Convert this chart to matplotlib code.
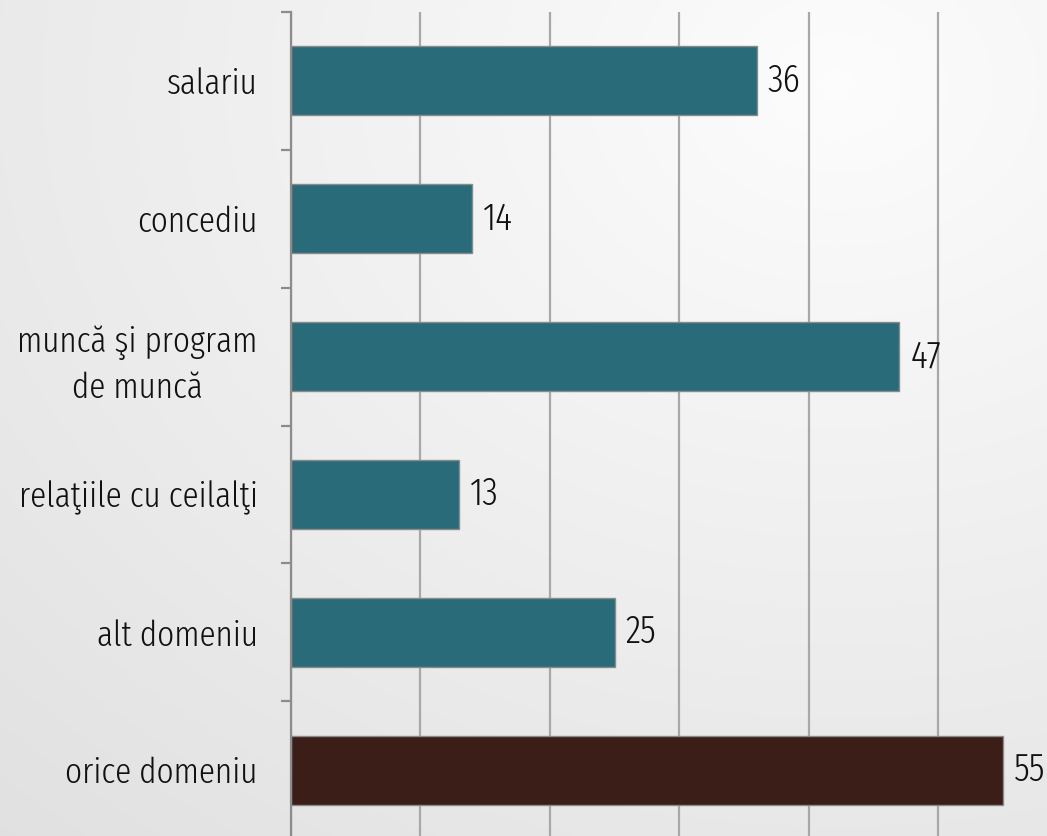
import matplotlib
matplotlib.use('Agg')
from matplotlib import pyplot as plt
from matplotlib import font_manager as fm
import numpy as np

categories = ['salariu', 'concediu', 'muncă şi program\nde muncă',
              'relaţiile cu ceilalţi', 'alt domeniu', 'orice domeniu']
values = [36, 14, 47, 13, 25, 55]
colors = ['#2a6b7a', '#2a6b7a', '#2a6b7a', '#2a6b7a', '#2a6b7a', '#3b1e17']

# pick a condensed face close to the original one
have = set(f.name for f in fm.fontManager.ttflist)
wanted = ['Fira Sans Extra Condensed', 'Open Sans Condensed', 'Roboto Condensed',
          'PT Sans Narrow', 'Liberation Sans Narrow']
fams = [f for f in wanted if f in have] + ['DejaVu Sans']
plt.rcParams['font.family'] = fams
plt.rcParams['font.weight'] = 300

fig = plt.figure(figsize=(10.47, 8.36), dpi=100)

# light grey gradient, whitest towards the top right
bg = fig.add_axes([0, 0, 1, 1], zorder=-10)
yy, xx = np.mgrid[0:1:200j, 0:1:250j]
dist = np.sqrt((xx - 0.8) ** 2 + (yy - 0.1) ** 2)
shade = np.clip(0.99 - 0.09 * dist, 0, 1)
bg.imshow(np.dstack([shade] * 3), aspect='auto', extent=[0, 1, 0, 1],
          origin='upper', interpolation='bilinear')
bg.axis('off')

ax = fig.add_axes([291 / 1047, -3 / 836, 60 * 12.94 / 1047, 827 / 836])
ax.patch.set_alpha(0)

pos = np.arange(len(values))
ax.barh(pos, values, height=0.5, color=colors, edgecolor='#8a8a8a',
        linewidth=1, zorder=3)
for p, v in zip(pos, values):
    ax.text(v + 0.85, p, str(v), va='center', ha='left', fontsize=28,
            color='#111111', zorder=4)

ax.set_xlim(0, 60)
ax.set_ylim(len(values) - 0.5, -0.5)
ax.set_xticks([0, 10, 20, 30, 40, 50])
ax.tick_params(axis='x', length=0, labelbottom=False)
ax.grid(axis='x', color='#a8a8a8', linewidth=1.6, zorder=0)

ax.set_yticks(pos)
ax.set_yticklabels(categories, fontsize=26, color='#111111', linespacing=1.4,
                   multialignment='center')
ax.tick_params(axis='y', which='major', length=0, pad=24)
ax.set_yticks(np.arange(-0.5, len(values), 1), minor=True)
ax.tick_params(axis='y', which='minor', length=7, width=1.6, color='#8c8c8c')

for s in ['top', 'right', 'bottom']:
    ax.spines[s].set_visible(False)
ax.spines['left'].set_color('#8c8c8c')
ax.spines['left'].set_linewidth(1.6)
ax.spines['left'].set_zorder(5)

fig.savefig('out.png', dpi=100)
